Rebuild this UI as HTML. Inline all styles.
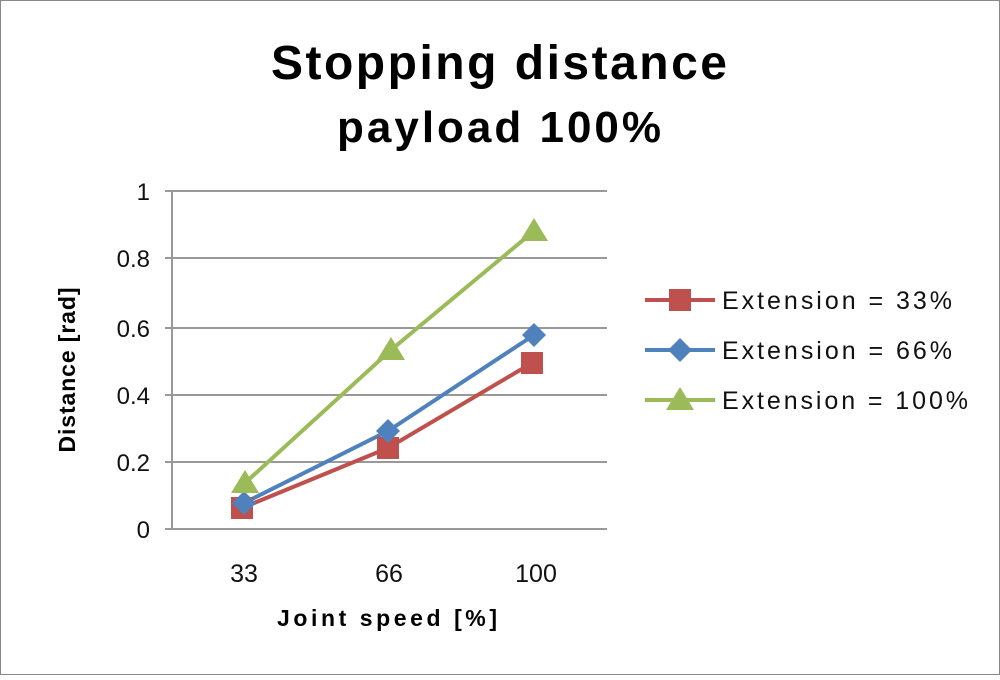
<!DOCTYPE html>
<html><head><style>body{margin:0;background:#fff}</style></head><body>
<svg width="1000" height="675" xmlns="http://www.w3.org/2000/svg" font-family="Liberation Sans, sans-serif">
<rect x="0.5" y="0.5" width="999" height="674" fill="#fff" stroke="#888"/>
<text x="499" y="79" text-anchor="middle" font-size="48" font-weight="bold" textLength="456">Stopping distance</text>
<text x="499" y="142" text-anchor="middle" font-size="44" font-weight="bold" textLength="324">payload 100%</text>
<g stroke="#999" stroke-width="2">
<line x1="165" y1="191" x2="607" y2="191"/><line x1="165" y1="258" x2="607" y2="258"/>
<line x1="165" y1="328" x2="607" y2="328"/><line x1="165" y1="395" x2="607" y2="395"/>
<line x1="165" y1="462" x2="607" y2="462"/><line x1="165" y1="529" x2="607" y2="529"/>
<line x1="172" y1="191" x2="172" y2="529"/>
</g>
<g font-size="24" text-anchor="end" fill="#111">
<text x="150" y="200">1</text><text x="150" y="267">0.8</text><text x="150" y="337">0.6</text>
<text x="150" y="404">0.4</text><text x="150" y="471">0.2</text><text x="150" y="538">0</text>
</g>
<g font-size="25" text-anchor="middle" fill="#111">
<text x="244" y="582">33</text><text x="389" y="582">66</text><text x="536" y="582">100</text>
</g>
<text x="387" y="626" text-anchor="middle" font-size="23" font-weight="bold" textLength="220">Joint speed [%]</text>
<text transform="translate(75,370) rotate(-90)" text-anchor="middle" font-size="23" font-weight="bold" textLength="165">Distance [rad]</text>
<polyline points="242,508 388,448 532,363" fill="none" stroke="#c0504d" stroke-width="4"/>
<polyline points="244,503 388,431 534,335" fill="none" stroke="#4f81bd" stroke-width="4"/>
<polyline points="245,483 391,350 534,231" fill="none" stroke="#9bbb59" stroke-width="4"/>
<g fill="#c0504d"><rect x="231" y="497" width="22" height="22"/><rect x="377" y="437" width="22" height="22"/><rect x="521" y="352" width="22" height="22"/></g>
<g fill="#4f81bd"><path d="M244 491l12 12-12 12-12-12z"/><path d="M388 419l12 12-12 12-12-12z"/><path d="M534 323l12 12-12 12-12-12z"/></g>
<g fill="#9bbb59"><path d="M245 470l14 23h-28z"/><path d="M391 337l14 23h-28z"/><path d="M534 218l14 23h-28z"/></g>
<line x1="645" y1="300" x2="715" y2="300" stroke="#c0504d" stroke-width="4"/><rect x="669" y="289" width="22" height="22" fill="#c0504d"/>
<line x1="645" y1="350" x2="715" y2="350" stroke="#4f81bd" stroke-width="4"/><path d="M680 338l12 12-12 12-12-12z" fill="#4f81bd"/>
<line x1="645" y1="400" x2="715" y2="400" stroke="#9bbb59" stroke-width="4"/><path d="M680 387l14 23h-28z" fill="#9bbb59"/>
<g font-size="25" fill="#111">
<text x="722" y="309" textLength="230">Extension = 33%</text><text x="722" y="359" textLength="230">Extension = 66%</text><text x="722" y="409" textLength="246">Extension = 100%</text>
</g>
</svg>
</body></html>
